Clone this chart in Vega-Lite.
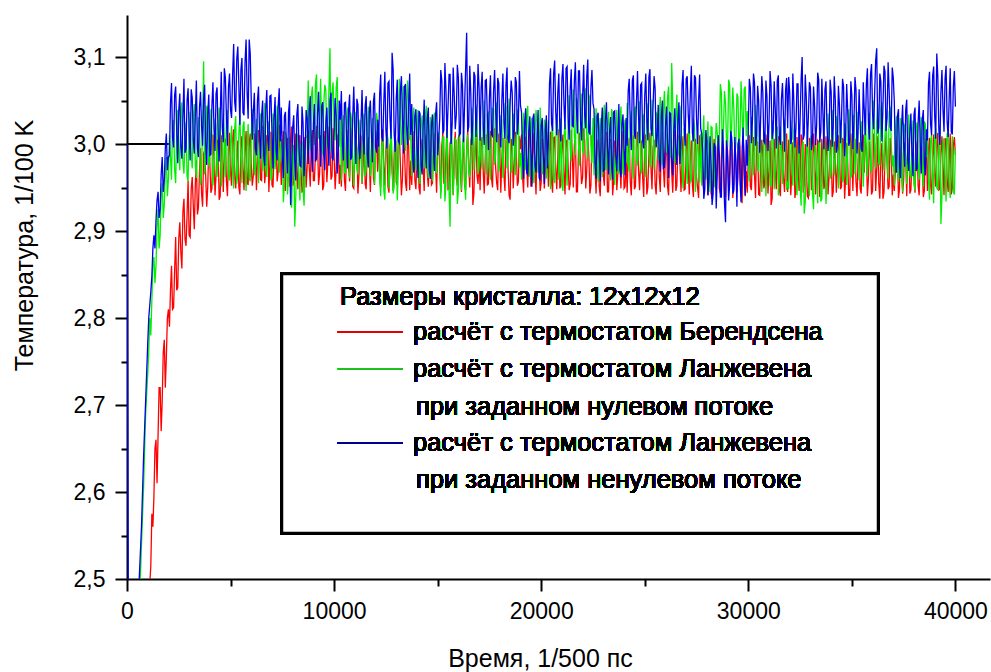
{
"$schema": "https://vega.github.io/schema/vega-lite/v6.json",
"width": 863, "height": 564,
"autosize": {"type": "none"},
"padding": {"left": 127, "top": 15, "right": 1, "bottom": 93},
"background": "white",
"config": {"view": {"stroke": null}, "font": "Liberation Sans"},
"resolve": {"axis": {"x": "independent", "y": "independent"}},
"data": {"values": [
{"t":0,"r":1.000,"g":1.900,"b":3.000},{"t":100,"r":1.150,"g":2.050,"b":2.150},{"t":200,"r":1.300,"g":2.150,"b":2.250},{"t":300,"r":1.450,"g":2.250,"b":2.330},{"t":400,"r":1.600,"g":2.330,"b":2.400},{"t":500,"r":1.750,"g":2.400,"b":2.455},{"t":600,"r":1.900,"g":2.470,"b":2.505},{"t":700,"r":2.050,"g":2.540,"b":2.560},{"t":800,"r":2.200,"g":2.605,"b":2.640},{"t":900,"r":2.310,"g":2.690,"b":2.705},{"t":1000,"r":2.420,"g":2.735,"b":2.770},{"t":1100,"r":2.495,"g":2.800,"b":2.815},{"t":1200,"r":2.575,"g":2.820,"b":2.848},{"t":1300,"r":2.595,"g":2.870,"b":2.895},{"t":1400,"r":2.660,"g":2.860,"b":2.912},{"t":1500,"r":2.665,"g":2.925,"b":2.945},{"t":1600,"r":2.720,"g":2.895,"b":2.925},{"t":1700,"r":2.705,"g":2.955,"b":2.985},{"t":1800,"r":2.775,"g":2.930,"b":2.958},{"t":1900,"r":2.755,"g":2.985,"b":3.012},{"t":2000,"r":2.810,"g":2.960,"b":2.985},
{"t":2100,"r":2.832,"g":2.985,"b":3.047},{"t":2200,"r":2.810,"g":3.026,"b":3.007},{"t":2300,"r":2.855,"g":2.970,"b":3.056},{"t":2400,"r":2.832,"g":3.012,"b":3.016},{"t":2500,"r":2.891,"g":2.992,"b":3.039},{"t":2600,"r":2.876,"g":3.034,"b":2.998},{"t":2700,"r":2.922,"g":2.979,"b":3.031},{"t":2800,"r":2.891,"g":3.005,"b":2.990},{"t":2900,"r":2.918,"g":2.963,"b":3.050},{"t":3000,"r":2.895,"g":3.019,"b":3.013},{"t":3100,"r":2.948,"g":2.989,"b":3.063},{"t":3200,"r":2.929,"g":3.029,"b":3.005},{"t":3300,"r":2.955,"g":2.975,"b":3.033},{"t":3400,"r":2.919,"g":3.002,"b":2.995},{"t":3500,"r":2.969,"g":3.023,"b":3.042},{"t":3600,"r":2.943,"g":2.967,"b":3.021},{"t":3700,"r":2.989,"g":3.095,"b":3.053},{"t":3800,"r":2.963,"g":2.994,"b":3.001},{"t":3900,"r":2.951,"g":3.040,"b":3.036},{"t":4000,"r":2.978,"g":2.982,"b":2.987},{"t":4100,"r":2.949,"g":3.010,"b":3.044},{"t":4200,"r":2.988,"g":2.972,"b":3.018},{"t":4300,"r":2.964,"g":3.021,"b":3.058},{"t":4400,"r":2.995,"g":2.986,"b":3.010},{"t":4500,"r":2.940,"g":3.031,"b":3.028},
{"t":4600,"r":2.986,"g":2.969,"b":3.019},{"t":4700,"r":2.995,"g":3.006,"b":3.087},{"t":4800,"r":2.958,"g":3.029,"b":3.032},{"t":4900,"r":2.989,"g":2.964,"b":3.065},{"t":5000,"r":2.967,"g":3.000,"b":3.039},{"t":5100,"r":3.006,"g":2.976,"b":3.079},{"t":5200,"r":2.962,"g":3.018,"b":3.048},{"t":5300,"r":2.981,"g":2.954,"b":3.097},{"t":5400,"r":2.951,"g":3.011,"b":3.068},{"t":5500,"r":2.997,"g":2.984,"b":3.085},{"t":5600,"r":2.972,"g":3.020,"b":3.036},{"t":5700,"r":2.991,"g":2.971,"b":3.094},{"t":5800,"r":2.956,"g":2.997,"b":3.059},{"t":5900,"r":2.999,"g":2.961,"b":3.120},{"t":6000,"r":2.976,"g":3.008,"b":3.051},
{"t":6100,"r":2.964,"g":3.020,"b":3.038},{"t":6200,"r":2.994,"g":2.973,"b":2.995},{"t":6300,"r":2.982,"g":3.009,"b":3.050},{"t":6400,"r":3.001,"g":2.986,"b":3.012},{"t":6500,"r":2.958,"g":3.033,"b":3.033},{"t":6600,"r":2.997,"g":2.995,"b":2.987},{"t":6700,"r":2.971,"g":2.970,"b":3.041},{"t":6800,"r":3.008,"g":3.017,"b":3.005},{"t":6900,"r":2.977,"g":3.006,"b":3.055},{"t":7000,"r":2.953,"g":2.964,"b":3.014},{"t":7100,"r":2.990,"g":3.022,"b":3.030},{"t":7200,"r":3.003,"g":2.990,"b":2.992},{"t":7300,"r":2.968,"g":3.028,"b":3.044},{"t":7400,"r":2.992,"g":2.981,"b":3.003},
{"t":7500,"r":2.992,"g":2.996,"b":2.985},{"t":7600,"r":2.956,"g":2.954,"b":3.032},{"t":7700,"r":2.999,"g":3.003,"b":2.994},{"t":7800,"r":2.977,"g":2.963,"b":3.037},{"t":7900,"r":3.004,"g":2.932,"b":2.930},{"t":8000,"r":2.952,"g":2.987,"b":3.019},{"t":8100,"r":2.990,"g":2.905,"b":2.982},{"t":8200,"r":2.967,"g":2.993,"b":3.034},{"t":8300,"r":3.007,"g":2.960,"b":2.999},{"t":8400,"r":2.971,"g":3.000,"b":2.974},{"t":8500,"r":2.946,"g":2.948,"b":3.024},{"t":8600,"r":2.996,"g":2.978,"b":2.991},{"t":8700,"r":2.975,"g":3.007,"b":3.029},
{"t":8800,"r":2.973,"g":3.007,"b":3.039},{"t":8900,"r":3.005,"g":3.054,"b":2.994},{"t":9000,"r":2.958,"g":3.023,"b":3.021},{"t":9100,"r":2.989,"g":3.069,"b":2.980},{"t":9200,"r":3.000,"g":3.014,"b":3.035},{"t":9300,"r":2.966,"g":3.031,"b":3.009},{"t":9400,"r":2.994,"g":3.000,"b":3.044},{"t":9500,"r":2.952,"g":3.046,"b":2.988},{"t":9600,"r":3.009,"g":3.062,"b":3.025},{"t":9700,"r":2.979,"g":3.019,"b":2.997},{"t":9800,"r":2.998,"g":3.110,"b":3.050},{"t":9900,"r":2.963,"g":3.057,"b":2.984},{"t":10000,"r":2.987,"g":3.026,"b":3.016},{"t":10100,"r":2.971,"g":3.065,"b":3.033},{"t":10200,"r":3.011,"g":3.005,"b":2.991},{"t":10300,"r":2.976,"g":3.043,"b":3.028},
{"t":10400,"r":2.989,"g":3.012,"b":3.001},{"t":10500,"r":2.958,"g":2.967,"b":3.047},{"t":10600,"r":2.997,"g":3.023,"b":3.010},{"t":10700,"r":2.972,"g":2.991,"b":3.039},{"t":10800,"r":3.003,"g":3.036,"b":2.982},{"t":10900,"r":2.951,"g":2.979,"b":3.031},{"t":11000,"r":2.986,"g":3.001,"b":3.015},{"t":11100,"r":2.994,"g":2.972,"b":3.052},{"t":11200,"r":2.964,"g":3.014,"b":2.994},{"t":11300,"r":3.008,"g":2.985,"b":3.025},{"t":11400,"r":2.975,"g":3.028,"b":3.006},{"t":11500,"r":2.954,"g":2.963,"b":3.044},{"t":11600,"r":2.999,"g":3.007,"b":2.988},{"t":11700,"r":2.980,"g":3.019,"b":3.036},{"t":11800,"r":2.991,"g":2.976,"b":3.013},{"t":11900,"r":2.961,"g":3.003,"b":3.049},{"t":12000,"r":3.005,"g":2.988,"b":2.997},{"t":12100,"r":2.968,"g":3.025,"b":3.028},
{"t":12200,"r":2.964,"g":2.960,"b":3.057},{"t":12300,"r":3.002,"g":2.997,"b":3.008},{"t":12400,"r":2.975,"g":2.947,"b":3.048},{"t":12500,"r":2.993,"g":2.988,"b":3.017},{"t":12600,"r":2.951,"g":3.006,"b":3.070},{"t":12700,"r":2.998,"g":2.966,"b":3.029},{"t":12800,"r":2.969,"g":2.983,"b":3.105},{"t":12900,"r":2.986,"g":2.951,"b":3.012},{"t":13000,"r":2.956,"g":3.002,"b":3.052},{"t":13100,"r":3.007,"g":2.971,"b":3.003},{"t":13200,"r":2.977,"g":3.054,"b":3.061},{"t":13300,"r":2.960,"g":3.013,"b":3.034},{"t":13400,"r":2.991,"g":3.066,"b":3.066},{"t":13500,"r":2.946,"g":3.027,"b":3.021},{"t":13600,"r":2.996,"g":3.049,"b":3.044},{"t":13700,"r":2.981,"g":3.008,"b":3.010},
{"t":13800,"r":2.994,"g":3.025,"b":2.983},{"t":13900,"r":2.958,"g":2.983,"b":3.032},{"t":14000,"r":2.986,"g":3.009,"b":2.996},{"t":14100,"r":2.950,"g":2.966,"b":3.038},{"t":14200,"r":2.999,"g":3.020,"b":2.975},{"t":14300,"r":2.972,"g":2.994,"b":3.019},{"t":14400,"r":3.005,"g":3.031,"b":3.001},{"t":14500,"r":2.965,"g":2.976,"b":3.029},{"t":14600,"r":2.983,"g":3.002,"b":2.970},{"t":14700,"r":2.953,"g":2.986,"b":3.023},{"t":14800,"r":2.990,"g":3.028,"b":2.992},{"t":14900,"r":2.975,"g":2.969,"b":3.034},{"t":15000,"r":3.001,"g":3.012,"b":2.987},
{"t":15100,"r":2.971,"g":3.000,"b":3.029},{"t":15200,"r":2.997,"g":2.963,"b":3.073},{"t":15300,"r":2.955,"g":3.008,"b":3.016},{"t":15400,"r":2.988,"g":2.952,"b":3.062},{"t":15500,"r":2.948,"g":2.986,"b":3.041},{"t":15600,"r":3.001,"g":2.905,"b":3.080},{"t":15700,"r":2.976,"g":2.995,"b":3.023},{"t":15800,"r":2.992,"g":2.967,"b":3.056},{"t":15900,"r":2.961,"g":3.004,"b":3.033},{"t":16000,"r":3.007,"g":2.946,"b":3.076},{"t":16100,"r":2.967,"g":2.983,"b":3.012},{"t":16200,"r":2.982,"g":2.997,"b":3.067},{"t":16300,"r":2.952,"g":2.957,"b":3.044},{"t":16400,"r":2.995,"g":2.991,"b":3.128},{"t":16500,"r":2.974,"g":2.970,"b":3.020},{"t":16600,"r":3.004,"g":2.982,"b":3.059},{"t":16700,"r":2.930,"g":3.024,"b":3.027},{"t":16800,"r":2.990,"g":2.991,"b":3.078},{"t":16900,"r":2.964,"g":3.031,"b":3.038},{"t":17000,"r":2.986,"g":2.974,"b":3.064},
{"t":17100,"r":3.000,"g":2.982,"b":3.064},{"t":17200,"r":2.969,"g":3.021,"b":3.021},{"t":17300,"r":2.986,"g":2.998,"b":3.073},{"t":17400,"r":2.953,"g":3.034,"b":3.032},{"t":17500,"r":2.995,"g":2.974,"b":3.054},{"t":17600,"r":2.960,"g":3.016,"b":3.011},{"t":17700,"r":3.009,"g":3.040,"b":3.061},{"t":17800,"r":2.973,"g":2.987,"b":3.038},{"t":17900,"r":2.947,"g":3.008,"b":3.076},{"t":18000,"r":2.992,"g":2.978,"b":3.017},{"t":18100,"r":2.983,"g":3.027,"b":3.050},{"t":18200,"r":2.964,"g":2.993,"b":3.025},{"t":18300,"r":3.004,"g":3.043,"b":3.068},{"t":18400,"r":2.971,"g":2.985,"b":3.007},{"t":18500,"r":2.936,"g":3.011,"b":3.047},{"t":18600,"r":2.998,"g":2.971,"b":3.059},{"t":18700,"r":2.978,"g":3.023,"b":3.015},{"t":18800,"r":2.989,"g":3.001,"b":3.071},{"t":18900,"r":2.957,"g":3.030,"b":3.029},{"t":19000,"r":2.994,"g":2.990,"b":3.044},
{"t":19100,"r":2.962,"g":3.011,"b":2.983},{"t":19200,"r":3.005,"g":2.973,"b":3.025},{"t":19300,"r":2.974,"g":3.034,"b":2.967},{"t":19400,"r":2.993,"g":2.987,"b":3.014},{"t":19500,"r":2.951,"g":3.020,"b":2.992},{"t":19600,"r":2.988,"g":2.964,"b":3.030},{"t":19700,"r":2.966,"g":3.007,"b":2.975},{"t":19800,"r":3.001,"g":3.025,"b":3.008},{"t":19900,"r":2.977,"g":2.981,"b":2.961},{"t":20000,"r":2.956,"g":3.002,"b":3.021},{"t":20100,"r":2.997,"g":2.970,"b":2.988},{"t":20200,"r":2.970,"g":3.016,"b":3.016},{"t":20300,"r":2.985,"g":2.994,"b":2.972},
{"t":20400,"r":2.991,"g":2.974,"b":3.069},{"t":20500,"r":2.957,"g":3.012,"b":3.023},{"t":20600,"r":3.007,"g":2.959,"b":3.081},{"t":20700,"r":2.972,"g":2.999,"b":3.038},{"t":20800,"r":2.984,"g":3.017,"b":3.058},{"t":20900,"r":2.949,"g":2.978,"b":3.017},{"t":21000,"r":2.996,"g":2.952,"b":3.075},{"t":21100,"r":2.966,"g":3.008,"b":3.045},{"t":21200,"r":3.002,"g":2.985,"b":3.087},{"t":21300,"r":2.975,"g":3.020,"b":3.030},{"t":21400,"r":2.954,"g":2.995,"b":3.063},{"t":21500,"r":2.989,"g":3.034,"b":3.021},{"t":21600,"r":2.999,"g":3.012,"b":3.072},{"t":21700,"r":2.945,"g":3.053,"b":3.042},{"t":21800,"r":2.993,"g":3.001,"b":3.084},{"t":21900,"r":2.978,"g":3.026,"b":3.026},{"t":22000,"r":2.962,"g":2.991,"b":3.054},{"t":22100,"r":3.004,"g":3.044,"b":3.034},{"t":22200,"r":2.970,"g":3.007,"b":3.078},{"t":22300,"r":2.987,"g":3.057,"b":3.014},{"t":22400,"r":2.952,"g":2.999,"b":3.065},{"t":22500,"r":2.995,"g":3.030,"b":3.047},
{"t":22600,"r":2.971,"g":3.017,"b":2.979},{"t":22700,"r":2.996,"g":2.976,"b":3.032},{"t":22800,"r":2.952,"g":3.008,"b":2.992},{"t":22900,"r":2.988,"g":2.987,"b":3.020},{"t":23000,"r":2.963,"g":3.032,"b":2.968},{"t":23100,"r":3.001,"g":2.971,"b":3.027},{"t":23200,"r":2.945,"g":3.021,"b":2.998},{"t":23300,"r":2.983,"g":2.994,"b":3.014},{"t":23400,"r":2.992,"g":3.040,"b":2.975},{"t":23500,"r":2.958,"g":2.982,"b":3.037},{"t":23600,"r":3.005,"g":3.003,"b":2.987},{"t":23700,"r":2.967,"g":2.965,"b":3.008},{"t":23800,"r":2.975,"g":3.026,"b":2.971},{"t":23900,"r":2.997,"g":2.989,"b":3.023},{"t":24000,"r":2.949,"g":3.014,"b":2.994},{"t":24100,"r":2.986,"g":2.978,"b":3.030},
{"t":24200,"r":2.991,"g":2.977,"b":3.061},{"t":24300,"r":2.957,"g":3.024,"b":3.023},{"t":24400,"r":2.985,"g":2.996,"b":3.073},{"t":24500,"r":2.948,"g":3.040,"b":3.012},{"t":24600,"r":2.998,"g":2.985,"b":3.048},{"t":24700,"r":2.969,"g":3.012,"b":3.033},{"t":24800,"r":2.981,"g":2.972,"b":3.068},{"t":24900,"r":2.961,"g":3.029,"b":3.004},{"t":25000,"r":3.003,"g":2.991,"b":3.056},{"t":25100,"r":2.942,"g":3.047,"b":3.028},{"t":25200,"r":2.988,"g":3.001,"b":3.077},{"t":25300,"r":2.973,"g":2.980,"b":3.018},{"t":25400,"r":2.996,"g":3.021,"b":3.043},{"t":25500,"r":2.954,"g":2.993,"b":3.064},{"t":25600,"r":2.979,"g":3.034,"b":3.009},
{"t":25700,"r":2.963,"g":3.032,"b":2.986},{"t":25800,"r":3.000,"g":2.995,"b":3.031},{"t":25900,"r":2.972,"g":3.040,"b":2.972},{"t":26000,"r":2.989,"g":3.010,"b":3.019},{"t":26100,"r":2.951,"g":3.053,"b":3.003},{"t":26200,"r":2.994,"g":3.004,"b":3.036},{"t":26300,"r":2.968,"g":3.093,"b":2.981},{"t":26400,"r":2.982,"g":2.990,"b":3.014},{"t":26500,"r":2.946,"g":3.028,"b":2.991},{"t":26600,"r":2.997,"g":3.001,"b":3.027},{"t":26700,"r":2.977,"g":3.044,"b":2.977},
{"t":26800,"r":2.987,"g":2.969,"b":3.068},{"t":26900,"r":2.947,"g":3.017,"b":3.023},{"t":27000,"r":2.994,"g":2.980,"b":3.075},{"t":27100,"r":2.971,"g":3.008,"b":3.034},{"t":27200,"r":2.983,"g":2.956,"b":3.059},{"t":27300,"r":2.953,"g":2.999,"b":3.013},{"t":27400,"r":3.001,"g":3.020,"b":3.079},{"t":27500,"r":2.962,"g":2.974,"b":3.029},{"t":27600,"r":2.938,"g":2.987,"b":3.050},{"t":27700,"r":2.990,"g":3.012,"b":3.018},
{"t":27800,"r":2.956,"g":3.005,"b":2.992},{"t":27900,"r":2.989,"g":2.964,"b":2.948},{"t":28000,"r":2.972,"g":2.999,"b":3.003},{"t":28100,"r":2.999,"g":2.973,"b":2.960},{"t":28200,"r":2.944,"g":3.020,"b":2.980},{"t":28300,"r":2.982,"g":2.958,"b":2.943},{"t":28400,"r":2.963,"g":2.994,"b":2.997},{"t":28500,"r":2.995,"g":3.013,"b":2.967},{"t":28600,"r":2.949,"g":3.006,"b":2.988},{"t":28700,"r":2.985,"g":3.059,"b":2.939},{"t":28800,"r":2.977,"g":3.017,"b":2.994},{"t":28900,"r":2.940,"g":3.047,"b":2.910},{"t":29000,"r":2.992,"g":2.998,"b":2.984},{"t":29100,"r":2.967,"g":3.068,"b":2.954},{"t":29200,"r":3.002,"g":3.023,"b":3.007},{"t":29300,"r":2.954,"g":3.042,"b":2.946},{"t":29400,"r":2.980,"g":3.001,"b":2.977},{"t":29500,"r":2.961,"g":3.054,"b":3.000},{"t":29600,"r":2.997,"g":3.012,"b":2.957},{"t":29700,"r":2.932,"g":3.036,"b":2.991},{"t":29800,"r":2.986,"g":3.063,"b":2.964},{"t":29900,"r":2.969,"g":3.009,"b":3.005},
{"t":30000,"r":2.984,"g":3.018,"b":3.019},{"t":30100,"r":2.951,"g":2.975,"b":3.064},{"t":30200,"r":2.991,"g":3.010,"b":3.028},{"t":30300,"r":2.964,"g":2.986,"b":3.070},{"t":30400,"r":3.003,"g":3.028,"b":3.010},{"t":30500,"r":2.942,"g":2.969,"b":3.049},{"t":30600,"r":2.979,"g":2.998,"b":3.033},{"t":30700,"r":2.988,"g":2.965,"b":3.060},{"t":30800,"r":2.956,"g":3.012,"b":3.001},{"t":30900,"r":2.997,"g":2.976,"b":3.055},{"t":31000,"r":2.968,"g":2.989,"b":3.024},{"t":31100,"r":2.930,"g":2.952,"b":3.067},{"t":31200,"r":2.993,"g":3.007,"b":3.015},{"t":31300,"r":2.973,"g":2.970,"b":3.042},{"t":31400,"r":2.986,"g":3.020,"b":3.073},{"t":31500,"r":2.948,"g":2.961,"b":3.007},{"t":31600,"r":2.996,"g":2.992,"b":3.052},{"t":31700,"r":2.961,"g":2.974,"b":3.030},{"t":31800,"r":2.981,"g":3.004,"b":3.062},{"t":31900,"r":2.945,"g":2.957,"b":3.018},
{"t":32000,"r":2.992,"g":3.006,"b":3.059},{"t":32100,"r":2.966,"g":2.971,"b":3.006},{"t":32200,"r":2.999,"g":3.015,"b":3.048},{"t":32300,"r":2.947,"g":2.960,"b":3.018},{"t":32400,"r":2.980,"g":2.993,"b":3.069},{"t":32500,"r":2.959,"g":2.952,"b":3.027},{"t":32600,"r":3.006,"g":2.996,"b":3.100},{"t":32700,"r":2.953,"g":2.920,"b":3.011},{"t":32800,"r":2.976,"g":2.984,"b":3.053},{"t":32900,"r":2.938,"g":2.962,"b":3.032},{"t":33000,"r":2.995,"g":3.003,"b":3.065},{"t":33100,"r":2.963,"g":2.943,"b":3.003},{"t":33200,"r":2.989,"g":2.989,"b":3.044},{"t":33300,"r":2.971,"g":2.967,"b":3.022},{"t":33400,"r":3.002,"g":2.999,"b":3.074},{"t":33500,"r":2.944,"g":2.934,"b":3.014},{"t":33600,"r":2.984,"g":2.980,"b":3.038},{"t":33700,"r":2.956,"g":2.992,"b":3.062},{"t":33800,"r":2.987,"g":2.957,"b":3.020},
{"t":33900,"r":2.963,"g":3.014,"b":3.007},{"t":34000,"r":2.996,"g":2.968,"b":3.060},{"t":34100,"r":2.945,"g":3.001,"b":3.020},{"t":34200,"r":2.983,"g":2.982,"b":3.051},{"t":34300,"r":2.970,"g":3.026,"b":2.998},{"t":34400,"r":2.992,"g":2.973,"b":3.045},{"t":34500,"r":2.951,"g":3.007,"b":3.029},{"t":34600,"r":3.004,"g":2.960,"b":3.066},{"t":34700,"r":2.961,"g":3.020,"b":3.011},{"t":34800,"r":2.978,"g":2.991,"b":3.038},{"t":34900,"r":2.941,"g":3.012,"b":3.003},{"t":35000,"r":2.987,"g":2.965,"b":3.056},{"t":35100,"r":2.998,"g":3.033,"b":3.024},{"t":35200,"r":2.956,"g":2.979,"b":3.062},{"t":35300,"r":2.981,"g":2.997,"b":3.014},{"t":35400,"r":2.949,"g":2.971,"b":3.024},{"t":35500,"r":2.990,"g":3.023,"b":2.991},{"t":35600,"r":2.967,"g":2.986,"b":3.038},
{"t":35700,"r":2.995,"g":2.984,"b":3.068},{"t":35800,"r":2.960,"g":3.019,"b":3.024},{"t":35900,"r":2.984,"g":2.972,"b":3.080},{"t":36000,"r":2.946,"g":3.032,"b":3.036},{"t":36100,"r":3.000,"g":2.997,"b":3.058},{"t":36200,"r":2.972,"g":3.025,"b":3.110},{"t":36300,"r":2.954,"g":2.977,"b":3.019},{"t":36400,"r":2.989,"g":3.040,"b":3.072},{"t":36500,"r":2.937,"g":2.991,"b":3.041},{"t":36600,"r":2.986,"g":3.010,"b":3.083},{"t":36700,"r":2.979,"g":2.980,"b":3.030},{"t":36800,"r":2.951,"g":3.036,"b":3.062},{"t":36900,"r":2.993,"g":3.002,"b":3.015},{"t":37000,"r":2.965,"g":2.987,"b":3.076},
{"t":37100,"r":2.969,"g":3.014,"b":2.985},{"t":37200,"r":2.997,"g":2.972,"b":3.032},{"t":37300,"r":2.948,"g":2.997,"b":2.973},{"t":37400,"r":2.988,"g":2.960,"b":3.020},{"t":37500,"r":2.958,"g":3.023,"b":2.999},{"t":37600,"r":2.983,"g":2.979,"b":3.039},{"t":37700,"r":3.001,"g":3.009,"b":2.981},{"t":37800,"r":2.943,"g":2.964,"b":3.015},{"t":37900,"r":2.979,"g":2.992,"b":2.990},{"t":38000,"r":2.962,"g":2.953,"b":3.034},{"t":38100,"r":2.994,"g":3.018,"b":2.969},{"t":38200,"r":2.952,"g":2.976,"b":3.024},{"t":38300,"r":2.985,"g":3.003,"b":3.002},{"t":38400,"r":2.973,"g":2.968,"b":3.028},{"t":38500,"r":2.946,"g":3.026,"b":2.978},{"t":38600,"r":2.991,"g":2.985,"b":3.017},
{"t":38700,"r":2.994,"g":2.959,"b":3.069},{"t":38800,"r":2.953,"g":3.003,"b":3.023},{"t":38900,"r":2.985,"g":2.970,"b":3.078},{"t":39000,"r":2.964,"g":3.009,"b":3.032},{"t":39100,"r":3.001,"g":2.950,"b":3.104},{"t":39200,"r":2.947,"g":2.990,"b":3.017},{"t":39300,"r":2.989,"g":2.908,"b":3.060},{"t":39400,"r":2.974,"g":2.998,"b":3.040},{"t":39500,"r":3.006,"g":2.964,"b":3.075},{"t":39600,"r":2.959,"g":3.012,"b":3.026},{"t":39700,"r":2.980,"g":2.955,"b":3.053},{"t":39800,"r":2.942,"g":2.984,"b":3.014},{"t":39900,"r":2.998,"g":2.945,"b":3.066},{"t":40000,"r":2.987,"g":2.995,"b":3.043},
{"t":1050,"r":2.480,"g":2.760,"b":2.800},{"t":1150,"r":2.515,"g":2.780,"b":2.830},{"t":1250,"r":2.560,"g":2.860,"b":2.880},{"t":1350,"r":2.650,"g":2.840,"b":2.880},{"t":1450,"r":2.610,"g":2.905,"b":2.935},{"t":1550,"r":2.720,"g":2.880,"b":2.915},{"t":1650,"r":2.670,"g":2.940,"b":2.965},{"t":1750,"r":2.760,"g":2.915,"b":2.945},{"t":1850,"r":2.720,"g":2.970,"b":2.995},{"t":1950,"r":2.800,"g":2.940,"b":2.970},
{"t":2050,"r":2.790,"g":3.010,"b":2.987},{"t":2150,"r":2.860,"g":2.959,"b":3.070},{"t":2250,"r":2.812,"g":3.027,"b":2.996},{"t":2350,"r":2.893,"g":2.955,"b":3.066},{"t":2450,"r":2.835,"g":3.039,"b":2.978},{"t":2550,"r":2.910,"g":2.970,"b":3.058},{"t":2650,"r":2.857,"g":3.048,"b":2.983},{"t":2750,"r":2.937,"g":2.966,"b":3.075},{"t":2850,"r":2.883,"g":3.025,"b":2.994},{"t":2950,"r":2.958,"g":2.957,"b":3.064},{"t":3050,"r":2.893,"g":3.037,"b":2.981},{"t":3150,"r":2.962,"g":2.972,"b":3.053},{"t":3250,"r":2.902,"g":3.046,"b":2.989},{"t":3350,"r":2.981,"g":2.961,"b":3.073},{"t":3450,"r":2.927,"g":3.031,"b":2.985},{"t":3550,"r":2.995,"g":2.953,"b":3.060},{"t":3650,"r":2.928,"g":3.022,"b":2.998},{"t":3750,"r":2.993,"g":2.965,"b":3.068},{"t":3850,"r":2.928,"g":3.044,"b":2.976},{"t":3950,"r":3.001,"g":2.974,"b":3.057},{"t":4050,"r":2.944,"g":3.040,"b":2.988},{"t":4150,"r":3.011,"g":2.952,"b":3.071},{"t":4250,"r":2.941,"g":3.029,"b":2.992},{"t":4350,"r":3.005,"g":2.962,"b":3.065},{"t":4450,"r":2.936,"g":3.042,"b":2.980},
{"t":4550,"r":3.010,"g":2.951,"b":3.083},{"t":4650,"r":2.945,"g":3.030,"b":3.002},{"t":4750,"r":3.006,"g":2.962,"b":3.076},{"t":4850,"r":2.940,"g":3.039,"b":2.998},{"t":4950,"r":3.013,"g":2.958,"b":3.081},{"t":5050,"r":2.952,"g":3.021,"b":3.030},{"t":5150,"r":3.017,"g":2.949,"b":3.115},{"t":5250,"r":2.949,"g":3.032,"b":3.037},{"t":5350,"r":3.004,"g":2.967,"b":3.112},{"t":5450,"r":2.942,"g":3.034,"b":3.022},{"t":5550,"r":3.009,"g":2.955,"b":3.099},{"t":5650,"r":2.947,"g":3.026,"b":3.033},{"t":5750,"r":3.015,"g":2.946,"b":3.120},{"t":5850,"r":2.953,"g":3.023,"b":3.029},{"t":5950,"r":3.012,"g":2.957,"b":3.104},
{"t":6050,"r":2.952,"g":3.040,"b":3.005},{"t":6150,"r":3.012,"g":2.964,"b":3.059},{"t":6250,"r":2.947,"g":3.029,"b":2.987},{"t":6350,"r":3.016,"g":2.955,"b":3.066},{"t":6450,"r":2.959,"g":3.034,"b":2.983},{"t":6550,"r":3.021,"g":2.969,"b":3.050},{"t":6650,"r":2.955,"g":3.047,"b":2.975},{"t":6750,"r":3.009,"g":2.962,"b":3.062},{"t":6850,"r":2.945,"g":3.026,"b":2.992},{"t":6950,"r":3.014,"g":2.958,"b":3.056},{"t":7050,"r":2.950,"g":3.035,"b":2.972},{"t":7150,"r":3.017,"g":2.971,"b":3.054},{"t":7250,"r":2.957,"g":3.044,"b":2.981},{"t":7350,"r":3.022,"g":2.967,"b":3.064},
{"t":7450,"r":2.953,"g":3.006,"b":3.042},{"t":7550,"r":3.015,"g":2.933,"b":2.961},{"t":7650,"r":2.946,"g":3.014,"b":3.037},{"t":7750,"r":3.007,"g":2.942,"b":2.966},{"t":7850,"r":2.951,"g":3.008,"b":3.050},{"t":7950,"r":3.020,"g":2.927,"b":2.970},{"t":8050,"r":2.955,"g":2.999,"b":3.033},{"t":8150,"r":3.012,"g":2.939,"b":2.958},{"t":8250,"r":2.948,"g":3.012,"b":3.046},{"t":8350,"r":3.010,"g":2.935,"b":2.975},{"t":8450,"r":2.945,"g":3.003,"b":3.043},{"t":8550,"r":3.008,"g":2.929,"b":2.963},{"t":8650,"r":2.950,"g":3.010,"b":3.039},
{"t":8750,"r":3.013,"g":3.073,"b":2.977},{"t":8850,"r":2.951,"g":2.993,"b":3.055},{"t":8950,"r":3.016,"g":3.066,"b":2.968},{"t":9050,"r":2.958,"g":2.999,"b":3.046},{"t":9150,"r":3.021,"g":3.080,"b":2.983},{"t":9250,"r":2.953,"g":3.006,"b":3.060},{"t":9350,"r":3.010,"g":3.075,"b":2.974},{"t":9450,"r":2.947,"g":2.988,"b":3.048},{"t":9550,"r":3.015,"g":3.068,"b":2.970},{"t":9650,"r":2.956,"g":2.996,"b":3.042},{"t":9750,"r":3.020,"g":3.062,"b":2.975},{"t":9850,"r":2.959,"g":2.991,"b":3.059},{"t":9950,"r":3.018,"g":3.071,"b":2.981},{"t":10050,"r":2.948,"g":3.004,"b":3.053},{"t":10150,"r":3.009,"g":3.077,"b":2.966},{"t":10250,"r":2.954,"g":2.997,"b":3.050},
{"t":10350,"r":2.951,"g":2.958,"b":3.061},{"t":10450,"r":3.011,"g":3.033,"b":2.981},{"t":10550,"r":2.946,"g":2.967,"b":3.048},{"t":10650,"r":3.016,"g":3.042,"b":2.972},{"t":10750,"r":2.957,"g":2.961,"b":3.057},{"t":10850,"r":3.019,"g":3.026,"b":2.985},{"t":10950,"r":2.949,"g":2.952,"b":3.066},{"t":11050,"r":3.009,"g":3.037,"b":2.977},{"t":11150,"r":2.943,"g":2.965,"b":3.045},{"t":11250,"r":3.013,"g":3.028,"b":2.983},{"t":11350,"r":2.954,"g":2.956,"b":3.062},{"t":11450,"r":3.017,"g":3.035,"b":2.988},{"t":11550,"r":2.948,"g":2.971,"b":3.055},{"t":11650,"r":3.008,"g":3.043,"b":2.973},{"t":11750,"r":2.945,"g":2.963,"b":3.050},{"t":11850,"r":3.012,"g":3.030,"b":2.979},{"t":11950,"r":2.953,"g":2.954,"b":3.059},{"t":12050,"r":3.015,"g":3.036,"b":2.990},
{"t":12150,"r":3.013,"g":3.016,"b":2.997},{"t":12250,"r":2.950,"g":2.940,"b":3.080},{"t":12350,"r":3.017,"g":3.009,"b":3.003},{"t":12450,"r":2.952,"g":2.936,"b":3.083},{"t":12550,"r":3.011,"g":3.013,"b":2.995},{"t":12650,"r":2.944,"g":2.949,"b":3.072},{"t":12750,"r":3.006,"g":3.022,"b":3.006},{"t":12850,"r":2.946,"g":2.943,"b":3.086},{"t":12950,"r":3.018,"g":3.007,"b":2.991},{"t":13050,"r":2.953,"g":2.935,"b":3.074},{"t":13150,"r":3.012,"g":3.075,"b":3.001},{"t":13250,"r":2.941,"g":2.999,"b":3.078},{"t":13350,"r":3.009,"g":3.066,"b":2.989},{"t":13450,"r":2.955,"g":2.992,"b":3.069},{"t":13550,"r":3.015,"g":3.073,"b":2.999},{"t":13650,"r":2.947,"g":3.006,"b":3.081},
{"t":13750,"r":2.953,"g":2.963,"b":3.046},{"t":13850,"r":3.015,"g":3.042,"b":2.967},{"t":13950,"r":2.948,"g":2.970,"b":3.040},{"t":14050,"r":3.009,"g":3.039,"b":2.961},{"t":14150,"r":2.942,"g":2.954,"b":3.035},{"t":14250,"r":3.006,"g":3.033,"b":2.965},{"t":14350,"r":2.946,"g":2.972,"b":3.051},{"t":14450,"r":3.011,"g":3.044,"b":2.972},{"t":14550,"r":2.951,"g":2.961,"b":3.042},{"t":14650,"r":3.017,"g":3.031,"b":2.960},{"t":14750,"r":2.955,"g":2.957,"b":3.034},{"t":14850,"r":3.013,"g":3.036,"b":2.969},{"t":14950,"r":2.944,"g":2.966,"b":3.048},
{"t":15050,"r":3.009,"g":3.013,"b":3.005},{"t":15150,"r":2.944,"g":2.937,"b":3.085},{"t":15250,"r":3.013,"g":3.008,"b":3.012},{"t":15350,"r":2.953,"g":2.934,"b":3.093},{"t":15450,"r":3.018,"g":3.016,"b":3.007},{"t":15550,"r":2.949,"g":2.945,"b":3.080},{"t":15650,"r":3.005,"g":3.024,"b":3.000},{"t":15750,"r":2.941,"g":2.942,"b":3.088},{"t":15850,"r":3.014,"g":3.006,"b":3.017},{"t":15950,"r":2.952,"g":2.931,"b":3.091},{"t":16050,"r":3.011,"g":3.018,"b":3.010},{"t":16150,"r":2.945,"g":2.947,"b":3.082},{"t":16250,"r":3.007,"g":3.015,"b":3.002},{"t":16350,"r":2.947,"g":2.936,"b":3.086},{"t":16450,"r":3.016,"g":3.011,"b":3.014},{"t":16550,"r":2.950,"g":2.962,"b":3.090},{"t":16650,"r":3.008,"g":3.042,"b":2.999},{"t":16750,"r":2.943,"g":2.970,"b":3.083},{"t":16850,"r":3.012,"g":3.045,"b":3.008},{"t":16950,"r":2.954,"g":2.965,"b":3.092},
{"t":17050,"r":2.947,"g":3.044,"b":3.004},{"t":17150,"r":3.008,"g":2.971,"b":3.083},{"t":17250,"r":2.943,"g":3.050,"b":2.999},{"t":17350,"r":3.011,"g":2.965,"b":3.074},{"t":17450,"r":2.954,"g":3.036,"b":2.993},{"t":17550,"r":3.015,"g":2.959,"b":3.079},{"t":17650,"r":2.950,"g":3.041,"b":3.009},{"t":17750,"r":3.018,"g":2.976,"b":3.085},{"t":17850,"r":2.955,"g":3.048,"b":3.002},{"t":17950,"r":3.012,"g":2.968,"b":3.070},{"t":18050,"r":2.944,"g":3.033,"b":2.996},{"t":18150,"r":3.007,"g":2.961,"b":3.081},{"t":18250,"r":2.946,"g":3.045,"b":3.006},{"t":18350,"r":3.010,"g":2.972,"b":3.088},{"t":18450,"r":2.941,"g":3.052,"b":3.001},{"t":18550,"r":3.006,"g":2.967,"b":3.073},{"t":18650,"r":2.949,"g":3.035,"b":2.998},{"t":18750,"r":3.014,"g":2.964,"b":3.077},{"t":18850,"r":2.952,"g":3.040,"b":3.011},{"t":18950,"r":3.009,"g":2.973,"b":3.084},
{"t":19050,"r":3.011,"g":2.959,"b":3.037},{"t":19150,"r":2.944,"g":3.036,"b":2.960},{"t":19250,"r":3.007,"g":2.971,"b":3.041},{"t":19350,"r":2.950,"g":3.044,"b":2.965},{"t":19450,"r":3.017,"g":2.962,"b":3.032},{"t":19550,"r":2.955,"g":3.030,"b":2.951},{"t":19650,"r":3.013,"g":2.955,"b":3.035},{"t":19750,"r":2.942,"g":3.039,"b":2.967},{"t":19850,"r":3.009,"g":2.967,"b":3.039},{"t":19950,"r":2.946,"g":3.042,"b":2.958},{"t":20050,"r":3.006,"g":2.965,"b":3.030},{"t":20150,"r":2.949,"g":3.028,"b":2.954},{"t":20250,"r":3.015,"g":2.960,"b":3.033},
{"t":20350,"r":2.951,"g":3.027,"b":3.007},{"t":20450,"r":3.014,"g":2.948,"b":3.087},{"t":20550,"r":2.944,"g":3.020,"b":3.015},{"t":20650,"r":3.008,"g":2.955,"b":3.096},{"t":20750,"r":2.948,"g":3.035,"b":3.010},{"t":20850,"r":3.017,"g":2.959,"b":3.081},{"t":20950,"r":2.953,"g":3.030,"b":3.003},{"t":21050,"r":3.011,"g":2.946,"b":3.092},{"t":21150,"r":2.942,"g":3.023,"b":3.017},{"t":21250,"r":3.005,"g":2.952,"b":3.089},{"t":21350,"r":2.947,"g":3.056,"b":3.005},{"t":21450,"r":3.016,"g":2.980,"b":3.086},{"t":21550,"r":2.950,"g":3.063,"b":3.020},{"t":21650,"r":3.009,"g":2.987,"b":3.094},{"t":21750,"r":2.945,"g":3.049,"b":3.012},{"t":21850,"r":3.013,"g":2.975,"b":3.084},{"t":21950,"r":2.954,"g":3.058,"b":3.004},{"t":22050,"r":3.018,"g":2.989,"b":3.091},{"t":22150,"r":2.949,"g":3.064,"b":3.018},{"t":22250,"r":3.007,"g":2.983,"b":3.097},{"t":22350,"r":2.943,"g":3.052,"b":3.011},{"t":22450,"r":3.010,"g":2.978,"b":3.085},
{"t":22550,"r":3.010,"g":2.964,"b":3.040},{"t":22650,"r":2.943,"g":3.041,"b":2.960},{"t":22750,"r":3.005,"g":2.956,"b":3.036},{"t":22850,"r":2.940,"g":3.030,"b":2.957},{"t":22950,"r":3.008,"g":2.962,"b":3.042},{"t":23050,"r":2.952,"g":3.045,"b":2.971},{"t":23150,"r":3.014,"g":2.971,"b":3.048},{"t":23250,"r":2.945,"g":3.037,"b":2.965},{"t":23350,"r":3.006,"g":2.958,"b":3.031},{"t":23450,"r":2.941,"g":3.033,"b":2.959},{"t":23550,"r":3.003,"g":2.953,"b":3.038},{"t":23650,"r":2.947,"g":3.039,"b":2.969},{"t":23750,"r":3.012,"g":2.969,"b":3.046},{"t":23850,"r":2.949,"g":3.043,"b":2.962},{"t":23950,"r":3.015,"g":2.965,"b":3.034},{"t":24050,"r":2.951,"g":3.028,"b":2.964},
{"t":24150,"r":2.944,"g":3.047,"b":2.998},{"t":24250,"r":3.007,"g":2.968,"b":3.075},{"t":24350,"r":2.941,"g":3.038,"b":2.993},{"t":24450,"r":3.010,"g":2.960,"b":3.079},{"t":24550,"r":2.951,"g":3.043,"b":3.006},{"t":24650,"r":3.014,"g":2.975,"b":3.084},{"t":24750,"r":2.947,"g":3.049,"b":3.001},{"t":24850,"r":3.004,"g":2.966,"b":3.070},{"t":24950,"r":2.939,"g":3.034,"b":2.995},{"t":25050,"r":3.011,"g":2.962,"b":3.081},{"t":25150,"r":2.950,"g":3.041,"b":3.004},{"t":25250,"r":3.013,"g":2.973,"b":3.086},{"t":25350,"r":2.948,"g":3.051,"b":3.009},{"t":25450,"r":3.005,"g":2.971,"b":3.078},{"t":25550,"r":2.942,"g":3.036,"b":2.996},
{"t":25650,"r":3.008,"g":2.981,"b":3.045},{"t":25750,"r":2.945,"g":3.054,"b":2.968},{"t":25850,"r":3.014,"g":2.976,"b":3.050},{"t":25950,"r":2.950,"g":3.061,"b":2.973},{"t":26050,"r":3.009,"g":2.990,"b":3.043},{"t":26150,"r":2.941,"g":3.066,"b":2.961},{"t":26250,"r":3.005,"g":2.984,"b":3.035},{"t":26350,"r":2.944,"g":3.049,"b":2.964},{"t":26450,"r":3.016,"g":2.978,"b":3.041},{"t":26550,"r":2.952,"g":3.057,"b":2.976},{"t":26650,"r":3.010,"g":2.987,"b":3.048},
{"t":26750,"r":2.945,"g":3.027,"b":3.005},{"t":26850,"r":3.009,"g":2.949,"b":3.085},{"t":26950,"r":2.948,"g":3.020,"b":2.998},{"t":27050,"r":3.012,"g":2.954,"b":3.078},{"t":27150,"r":2.942,"g":3.034,"b":3.012},{"t":27250,"r":3.004,"g":2.958,"b":3.090},{"t":27350,"r":2.939,"g":3.029,"b":3.003},{"t":27450,"r":3.006,"g":2.945,"b":3.076},{"t":27550,"r":2.950,"g":3.018,"b":3.000},{"t":27650,"r":3.010,"g":2.956,"b":3.080},
{"t":27750,"r":3.008,"g":2.952,"b":3.012},{"t":27850,"r":2.946,"g":3.033,"b":2.937},{"t":27950,"r":3.012,"g":2.959,"b":3.016},{"t":28050,"r":2.941,"g":3.026,"b":2.941},{"t":28150,"r":3.001,"g":2.945,"b":3.009},{"t":28250,"r":2.937,"g":3.019,"b":2.930},{"t":28350,"r":3.006,"g":2.950,"b":3.001},{"t":28450,"r":2.948,"g":3.024,"b":2.926},{"t":28550,"r":3.010,"g":2.992,"b":3.010},{"t":28650,"r":2.943,"g":3.069,"b":2.939},{"t":28750,"r":3.003,"g":2.984,"b":3.017},{"t":28850,"r":2.939,"g":3.061,"b":2.932},{"t":28950,"r":3.005,"g":2.999,"b":3.004},{"t":29050,"r":2.950,"g":3.074,"b":2.935},{"t":29150,"r":3.009,"g":2.989,"b":3.015},{"t":29250,"r":2.938,"g":3.065,"b":2.943},{"t":29350,"r":3.002,"g":2.986,"b":3.008},{"t":29450,"r":2.944,"g":3.058,"b":2.928},{"t":29550,"r":3.011,"g":2.993,"b":3.006},{"t":29650,"r":2.947,"g":3.072,"b":2.933},{"t":29750,"r":3.007,"g":2.997,"b":3.019},{"t":29850,"r":2.940,"g":3.066,"b":2.941},
{"t":29950,"r":2.944,"g":3.038,"b":2.975},{"t":30050,"r":3.010,"g":2.957,"b":3.075},{"t":30150,"r":2.947,"g":3.031,"b":3.001},{"t":30250,"r":3.008,"g":2.964,"b":3.081},{"t":30350,"r":2.938,"g":3.045,"b":2.998},{"t":30450,"r":3.002,"g":2.970,"b":3.067},{"t":30550,"r":2.941,"g":3.021,"b":2.990},{"t":30650,"r":3.005,"g":2.945,"b":3.078},{"t":30750,"r":2.949,"g":3.014,"b":3.003},{"t":30850,"r":3.011,"g":2.940,"b":3.073},{"t":30950,"r":2.943,"g":3.023,"b":2.992},{"t":31050,"r":3.004,"g":2.952,"b":3.084},{"t":31150,"r":2.937,"g":3.027,"b":3.006},{"t":31250,"r":3.006,"g":2.948,"b":3.072},{"t":31350,"r":2.948,"g":3.015,"b":2.995},{"t":31450,"r":3.009,"g":2.941,"b":3.079},{"t":31550,"r":2.940,"g":3.020,"b":2.999},{"t":31650,"r":3.003,"g":2.954,"b":3.070},{"t":31750,"r":2.945,"g":3.028,"b":2.991},{"t":31850,"r":3.012,"g":2.947,"b":3.076},
{"t":31950,"r":3.005,"g":2.948,"b":3.077},{"t":32050,"r":2.941,"g":3.027,"b":3.000},{"t":32150,"r":3.002,"g":2.952,"b":3.081},{"t":32250,"r":2.938,"g":3.024,"b":2.996},{"t":32350,"r":3.008,"g":2.941,"b":3.069},{"t":32450,"r":2.946,"g":3.008,"b":2.989},{"t":32550,"r":3.011,"g":2.929,"b":3.074},{"t":32650,"r":2.944,"g":3.003,"b":3.005},{"t":32750,"r":3.000,"g":2.934,"b":3.080},{"t":32850,"r":2.940,"g":3.014,"b":2.997},{"t":32950,"r":3.007,"g":2.940,"b":3.071},{"t":33050,"r":2.947,"g":3.010,"b":2.993},{"t":33150,"r":3.012,"g":2.925,"b":3.066},{"t":33250,"r":2.942,"g":3.001,"b":2.999},{"t":33350,"r":3.004,"g":2.932,"b":3.082},{"t":33450,"r":2.939,"g":3.006,"b":3.002},{"t":33550,"r":3.006,"g":2.937,"b":3.075},{"t":33650,"r":2.948,"g":3.013,"b":2.994},{"t":33750,"r":3.009,"g":2.931,"b":3.072},
{"t":33850,"r":2.942,"g":3.035,"b":2.992},{"t":33950,"r":3.005,"g":2.960,"b":3.074},{"t":34050,"r":2.939,"g":3.039,"b":2.997},{"t":34150,"r":3.003,"g":2.964,"b":3.078},{"t":34250,"r":2.944,"g":3.032,"b":2.990},{"t":34350,"r":3.010,"g":2.949,"b":3.067},{"t":34450,"r":2.948,"g":3.028,"b":3.001},{"t":34550,"r":3.007,"g":2.956,"b":3.075},{"t":34650,"r":2.937,"g":3.024,"b":2.986},{"t":34750,"r":3.001,"g":2.953,"b":3.069},{"t":34850,"r":2.941,"g":3.040,"b":2.998},{"t":34950,"r":3.012,"g":2.961,"b":3.072},{"t":35050,"r":2.946,"g":3.033,"b":2.994},{"t":35150,"r":3.006,"g":2.965,"b":3.077},{"t":35250,"r":2.940,"g":3.037,"b":2.989},{"t":35350,"r":3.002,"g":2.958,"b":3.063},{"t":35450,"r":2.943,"g":3.026,"b":2.995},{"t":35550,"r":3.011,"g":2.951,"b":3.071},
{"t":35650,"r":3.006,"g":3.041,"b":3.010},{"t":35750,"r":2.940,"g":2.963,"b":3.087},{"t":35850,"r":3.003,"g":3.036,"b":3.005},{"t":35950,"r":2.942,"g":2.967,"b":3.092},{"t":36050,"r":3.012,"g":3.050,"b":3.017},{"t":36150,"r":2.946,"g":2.972,"b":3.096},{"t":36250,"r":3.009,"g":3.045,"b":3.012},{"t":36350,"r":2.937,"g":2.976,"b":3.081},{"t":36450,"r":3.001,"g":3.048,"b":3.003},{"t":36550,"r":2.944,"g":2.969,"b":3.090},{"t":36650,"r":3.011,"g":3.039,"b":3.015},{"t":36750,"r":2.948,"g":2.960,"b":3.094},{"t":36850,"r":3.007,"g":3.043,"b":3.020},{"t":36950,"r":2.941,"g":2.974,"b":3.088},
{"t":37050,"r":2.946,"g":2.952,"b":3.048},{"t":37150,"r":3.009,"g":3.032,"b":2.967},{"t":37250,"r":2.938,"g":2.957,"b":3.040},{"t":37350,"r":3.005,"g":3.030,"b":2.961},{"t":37450,"r":2.943,"g":2.945,"b":3.045},{"t":37550,"r":3.002,"g":3.021,"b":2.974},{"t":37650,"r":2.940,"g":2.954,"b":3.051},{"t":37750,"r":3.008,"g":3.034,"b":2.969},{"t":37850,"r":2.947,"g":2.961,"b":3.035},{"t":37950,"r":3.011,"g":3.027,"b":2.963},{"t":38050,"r":2.944,"g":2.947,"b":3.042},{"t":38150,"r":3.004,"g":3.025,"b":2.972},{"t":38250,"r":2.941,"g":2.959,"b":3.050},{"t":38350,"r":3.000,"g":3.031,"b":2.966},{"t":38450,"r":2.939,"g":2.951,"b":3.039},{"t":38550,"r":3.007,"g":3.023,"b":2.964},
{"t":38650,"r":2.946,"g":3.015,"b":3.004},{"t":38750,"r":3.007,"g":2.936,"b":3.083},{"t":38850,"r":2.942,"g":3.011,"b":3.010},{"t":38950,"r":3.011,"g":2.932,"b":3.089},{"t":39050,"r":2.951,"g":3.018,"b":3.006},{"t":39150,"r":3.013,"g":2.947,"b":3.078},{"t":39250,"r":2.948,"g":3.022,"b":2.999},{"t":39350,"r":3.009,"g":2.940,"b":3.085},{"t":39450,"r":2.941,"g":3.007,"b":3.014},{"t":39550,"r":3.006,"g":2.934,"b":3.090},{"t":39650,"r":2.945,"g":3.013,"b":3.008},{"t":39750,"r":3.012,"g":2.938,"b":3.087},{"t":39850,"r":2.949,"g":3.009,"b":3.011},{"t":39950,"r":3.008,"g":2.942,"b":3.084}
]},
"layer": [
{"mark": {"type": "line", "color": "#ff0000", "strokeWidth": 1.3, "clip": true},
 "encoding": {
  "x": {"field": "t", "type": "quantitative", "scale": {"domain": [0, 41670], "nice": false, "zero": false},
   "axis": {"orient": "bottom", "values": [0,10000,20000,30000,40000], "format": "d",
    "tickSize": 12, "tickWidth": 2, "tickColor": "black", "domainColor": "black", "domainWidth": 2,
    "labelFontSize": 23, "labelFont": "Liberation Sans", "labelColor": "black", "labelPadding": 9, "labelOverlap": false, "labelFlush": false, "grid": false,
    "title": "Время, 1/500 пс", "titleFontSize": 25, "titleFont": "Liberation Sans", "titleFontWeight": "normal", "titleColor": "black",
    "titleX": 413, "titleY": 87, "titleAlign": "center", "titleBaseline": "alphabetic"}},
  "y": {"field": "r", "type": "quantitative", "scale": {"domain": [2.5, 3.1483], "nice": false, "zero": false},
   "axis": {"orient": "left", "values": [2.5,2.6,2.7,2.8,2.9,3.0,3.1],
    "labelExpr": "replace(format(datum.value, '.1f'), '.', ',')",
    "tickSize": 12, "tickWidth": 2, "tickColor": "black", "domainColor": "black", "domainWidth": 2,
    "labelFontSize": 23, "labelFont": "Liberation Sans", "labelColor": "black", "labelPadding": 10, "labelOverlap": false, "grid": false,
    "title": "Температура, 1/100 K", "titleFontSize": 25, "titleFont": "Liberation Sans", "titleFontWeight": "normal", "titleColor": "black",
    "titleX": -95, "titleY": 230, "titleAngle": -90, "titleAlign": "center", "titleBaseline": "alphabetic"}}}},
{"mark": {"type": "rule", "color": "black", "strokeWidth": 1},
 "encoding": {"x": {"datum": 0, "type": "quantitative", "axis": null}, "x2": {"datum": 2000}, "y": {"datum": 3.0, "type": "quantitative", "axis": null}}},
{"mark": {"type": "line", "color": "#00f000", "strokeWidth": 1.3, "clip": true},
 "encoding": {"x": {"field": "t", "type": "quantitative", "axis": null}, "y": {"field": "g", "type": "quantitative", "axis": null}}},
{"mark": {"type": "line", "color": "#0000f0", "strokeWidth": 1.3, "clip": true},
 "encoding": {
  "x": {"field": "t", "type": "quantitative",
   "axis": {"orient": "bottom", "values": [5000,15000,25000,35000], "labels": false, "domain": false, "grid": false, "title": null, "tickSize": 7, "tickWidth": 2, "tickColor": "black"}},
  "y": {"field": "b", "type": "quantitative",
   "axis": {"orient": "left", "values": [2.55,2.65,2.75,2.85,2.95,3.05], "labels": false, "domain": false, "grid": false, "title": null, "tickSize": 6, "tickWidth": 2, "tickColor": "black"}}}},
{"mark": {"type": "rect", "fill": "white", "stroke": "black", "strokeWidth": 2.5},
 "encoding": {"x": {"datum": 7484, "type": "quantitative", "axis": null}, "x2": {"datum": 36262}, "y": {"datum": 2.8506, "type": "quantitative", "axis": null}, "y2": {"datum": 2.5529}}},
{"mark": {"type": "rule", "color": "#e00000", "strokeWidth": 1},
 "encoding": {"x": {"datum": 10188, "type": "quantitative", "axis": null}, "x2": {"datum": 13327}, "y": {"datum": 2.7839, "type": "quantitative", "axis": null}}},
{"mark": {"type": "rule", "color": "#20c020", "strokeWidth": 1},
 "encoding": {"x": {"datum": 10188, "type": "quantitative", "axis": null}, "x2": {"datum": 13327}, "y": {"datum": 2.7414, "type": "quantitative", "axis": null}}},
{"mark": {"type": "rule", "color": "#000090", "strokeWidth": 1},
 "encoding": {"x": {"datum": 10188, "type": "quantitative", "axis": null}, "x2": {"datum": 13327}, "y": {"datum": 2.6563, "type": "quantitative", "axis": null}}},
{"mark": {"type": "text", "align": "left", "baseline": "middle", "fontSize": 25.5, "font": "Liberation Sans", "color": "black"},
 "encoding": {"x": {"datum": 10285, "type": "quantitative", "axis": null}, "y": {"datum": 2.8242, "type": "quantitative", "axis": null}, "text": {"value": "Размеры кристалла: 12x12x12"}}},
{"mark": {"type": "text", "align": "left", "baseline": "middle", "fontSize": 25.5, "font": "Liberation Sans", "color": "black"},
 "encoding": {"x": {"datum": 13810, "type": "quantitative", "axis": null}, "y": {"datum": 2.7839, "type": "quantitative", "axis": null}, "text": {"value": "расчёт с термостатом Берендсена"}}},
{"mark": {"type": "text", "align": "left", "baseline": "middle", "fontSize": 25.5, "font": "Liberation Sans", "color": "black"},
 "encoding": {"x": {"datum": 13810, "type": "quantitative", "axis": null}, "y": {"datum": 2.7414, "type": "quantitative", "axis": null}, "text": {"value": "расчёт с термостатом Ланжевена"}}},
{"mark": {"type": "text", "align": "left", "baseline": "middle", "fontSize": 25.5, "font": "Liberation Sans", "color": "black"},
 "encoding": {"x": {"datum": 13955, "type": "quantitative", "axis": null}, "y": {"datum": 2.6977, "type": "quantitative", "axis": null}, "text": {"value": "при заданном нулевом потоке"}}},
{"mark": {"type": "text", "align": "left", "baseline": "middle", "fontSize": 25.5, "font": "Liberation Sans", "color": "black"},
 "encoding": {"x": {"datum": 13810, "type": "quantitative", "axis": null}, "y": {"datum": 2.6563, "type": "quantitative", "axis": null}, "text": {"value": "расчёт с термостатом Ланжевена"}}},
{"mark": {"type": "text", "align": "left", "baseline": "middle", "fontSize": 25.5, "font": "Liberation Sans", "color": "black"},
 "encoding": {"x": {"datum": 13955, "type": "quantitative", "axis": null}, "y": {"datum": 2.6138, "type": "quantitative", "axis": null}, "text": {"value": "при заданном ненулевом потоке"}}}
]
}
